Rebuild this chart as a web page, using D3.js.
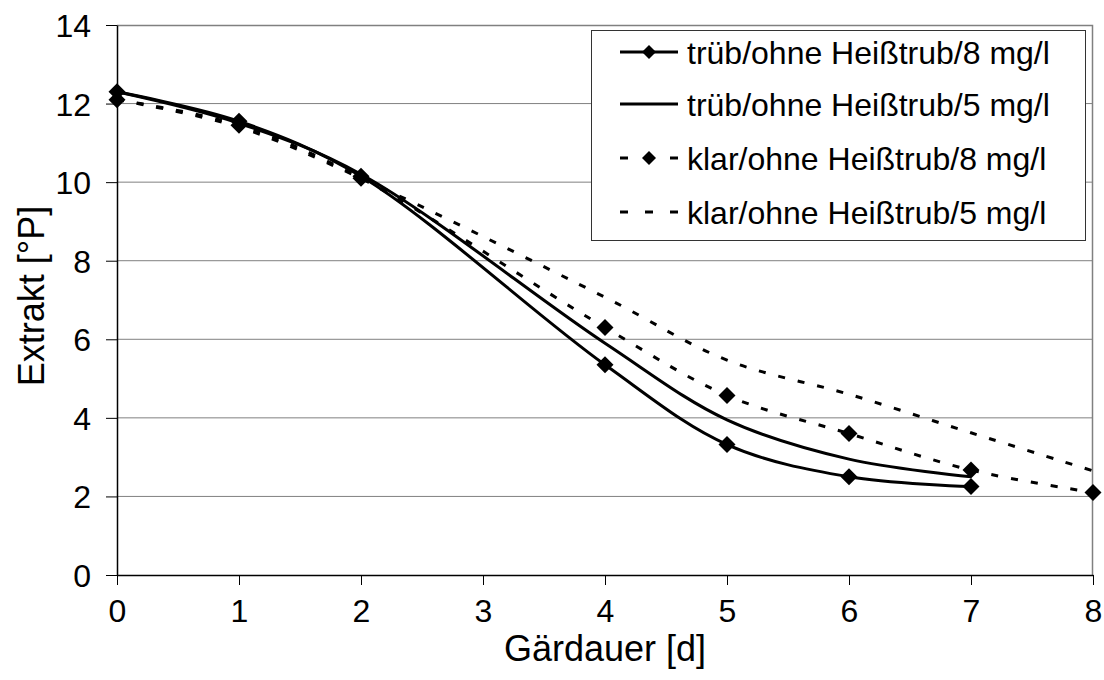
<!DOCTYPE html>
<html lang="de">
<head>
  <meta charset="UTF-8">
  <script src="https://d3js.org/d3.v7.min.js"></script>
  <title>Extrakt vs Gärdauer</title>
  <style>
    body { margin: 0; background: #fff; }
    text { font-family: "Liberation Sans", Arial, sans-serif; fill: #000; }
  </style>
</head>
<body>
  <svg width="1104" height="680"></svg>

  <script>
    // values
    const days = [0, 1, 2, 4, 5, 6, 7]
    const daysKlar = [0, 1, 2, 4, 5, 6, 7, 8]

    const truebAcht = [12.3, 11.55, 10.15, 5.35, 3.32, 2.5, 2.25]
    const truebFuenf = [12.3, 11.5, 10.2, 5.9, 3.95, 2.95, 2.5]
    const klarAcht = [12.1, 11.45, 10.1, 6.3, 4.57, 3.6, 2.67, 2.1]
    const klarFuenf = [12.1, 11.4, 10.1, 7.07, 5.47, 4.6, 3.62, 2.65]

    const xTicks = [0, 1, 2, 3, 4, 5, 6, 7, 8]
    const yTicks = [0, 2, 4, 6, 8, 10, 12, 14]

    const seriesNames = [
      'trüb/ohne Heißtrub/8 mg/l',
      'trüb/ohne Heißtrub/5 mg/l',
      'klar/ohne Heißtrub/8 mg/l',
      'klar/ohne Heißtrub/5 mg/l'
    ]

    const series = [
      { name: seriesNames[0], x: days, y: truebAcht, dashed: false, marker: true },
      { name: seriesNames[1], x: days, y: truebFuenf, dashed: false, marker: false },
      { name: seriesNames[2], x: daysKlar, y: klarAcht, dashed: true, marker: true },
      { name: seriesNames[3], x: daysKlar, y: klarFuenf, dashed: true, marker: false }
    ]

    const DASH = '7,13'
    const margin = { top: 25, right: 11, bottom: 105, left: 117 }
    const svg = d3.select('svg')
    const width = 1104 - margin.left - margin.right
    const height = 680 - margin.top - margin.bottom

    const x = d3.scaleLinear().domain([0, 8]).range([0, width])
    const y = d3.scaleLinear().domain([0, 14]).range([height, 0])

    const g = svg.append('g').attr('transform', `translate(${margin.left},${margin.top})`)

    // grid
    g.selectAll('.grid').data(yTicks.filter(d => d > 0 && d < 14)).enter()
      .append('line')
      .attr('x1', 0).attr('x2', width)
      .attr('y1', d => y(d)).attr('y2', d => y(d))
      .attr('stroke', '#808080').attr('stroke-width', 1)

    // plot frame (top/right)
    g.append('path')
      .attr('d', `M0,0.5H${width - 0.5}V${height}`)
      .attr('fill', 'none').attr('stroke', '#808080').attr('stroke-width', 1.5)

    const xAxis = g.append('g')
      .attr('transform', `translate(0,${height})`)
      .call(d3.axisBottom(x).tickValues(xTicks).tickSize(10).tickSizeOuter(0))
    const yAxis = g.append('g')
      .call(d3.axisLeft(y).tickValues(yTicks).tickSize(11).tickSizeOuter(0).tickPadding(15))

    ;[xAxis, yAxis].forEach(a => {
      a.select('.domain').attr('stroke', '#000').attr('stroke-width', 1.5)
      a.selectAll('.tick line').attr('stroke', '#000')
      a.selectAll('text').style('font-family', '"Liberation Sans", Arial, sans-serif')
        .style('font-size', '32px').attr('fill', '#000')
    })
    yAxis.selectAll('text').attr('dy', '0.36em')
    xAxis.selectAll('text').attr('dy', '0.71em').attr('y', 24)

    // axis titles
    svg.append('text')
      .attr('x', margin.left + width / 2).attr('y', 661)
      .attr('text-anchor', 'middle').style('font-size', '36px')
      .text('Gärdauer [d]')
    svg.append('text')
      .attr('transform', 'translate(44,296) rotate(-90)')
      .attr('text-anchor', 'middle').style('font-size', '36px')
      .text('Extrakt [°P]')

    // lines
    const line = d3.line()
      .x(d => x(d[0]))
      .y(d => y(d[1]))
      .curve(d3.curveCatmullRom.alpha(0.5))

    const diamond = (s) => `M0,${-s}L${s},0L0,${s}L${-s},0Z`

    series.forEach(s => {
      const pts = s.x.map((d, i) => [d, s.y[i]])
      g.append('path')
        .datum(pts)
        .attr('d', line)
        .attr('fill', 'none')
        .attr('stroke', '#000')
        .attr('stroke-width', 3)
        .attr('stroke-dasharray', s.dashed ? DASH : null)
      if (s.marker) {
        g.selectAll(null).data(pts).enter()
          .append('path')
          .attr('d', diamond(8.5))
          .attr('transform', d => `translate(${x(d[0])},${y(d[1])})`)
          .attr('fill', '#000')
      }
    })

    // legend
    const leg = svg.append('g')
    leg.append('rect')
      .attr('x', 591.5).attr('y', 30.5).attr('width', 494).attr('height', 210)
      .attr('fill', '#fff').attr('stroke', '#333').attr('stroke-width', 1)

    const rowY = [52, 104, 158, 212]
    series.forEach((s, i) => {
      const ry = rowY[i]
      leg.append('line')
        .attr('x1', 620).attr('x2', 678).attr('y1', ry).attr('y2', ry)
        .attr('stroke', '#000').attr('stroke-width', 3)
        .attr('stroke-dasharray', s.dashed ? '8,17' : null)
      if (s.marker) {
        leg.append('path').attr('d', diamond(7))
          .attr('transform', `translate(649,${ry})`).attr('fill', '#000')
      }
      leg.append('text')
        .attr('x', 687).attr('y', ry).attr('dy', '0.36em')
        .style('font-size', '32px')
        .text(s.name)
    })
  </script>
</body>
</html>
